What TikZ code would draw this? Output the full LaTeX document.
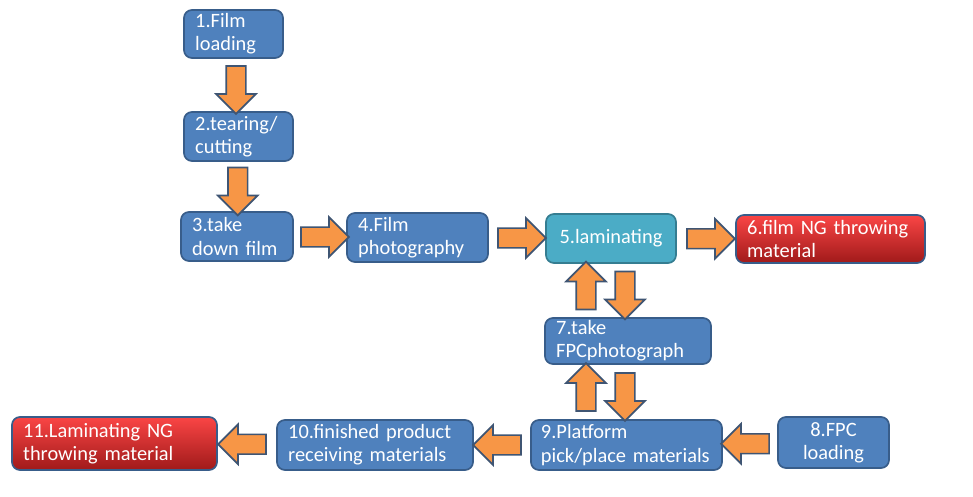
\documentclass[tikz,border=0pt]{standalone}
\usepackage{fontspec}
\setmainfont{Carlito}[WordSpace = 0.9]
\usepackage{xcolor}
\usetikzlibrary{calc, shapes.arrows}

\definecolor{boxblue}{HTML}{4F81BD}
\definecolor{boxblueline}{HTML}{385D8A}
\definecolor{boxteal}{HTML}{4BACC6}
\definecolor{boxtealline}{HTML}{357D91}
\definecolor{ngtop}{HTML}{FA4545}
\definecolor{ngbottom}{HTML}{A01A1A}
\definecolor{arroworange}{HTML}{F79646}
\definecolor{arrowline}{HTML}{3F5573}

\tikzset{
	process/.style = {draw = boxblueline, fill = boxblue, line width = 1.2pt, rounded corners = 0.2cm, text = white, align = left, inner xsep = 0.28cm, inner ysep = 0pt, font = {\fontsize{14.5}{16.5}\selectfont}},
	laminate/.style = {process, draw = boxtealline, fill = boxteal, align = center},
	throwing/.style = {process, top color = ngtop, bottom color = ngbottom},
	flow/.style = {single arrow, draw = arrowline, fill = arroworange, line width = 1.2pt, inner sep = 0pt, inner ysep = 0.225cm, minimum height = 1.2cm, single arrow head extend = 0.25cm}
}

\begin{document}
\begin{tikzpicture}[x = 0.025cm, y = -0.025cm]
			\useasboundingbox[fill = white] (0,0) rectangle (973,497);
			
			% film side
			\node [process, text width = 1.915cm, minimum height = 1.2cm] (filmload) at (233.5,34) {1.Film\\loading};
			\node [process, text width = 2.165cm, minimum height = 1.225cm] (tearing) at (238.5,136.5) {2.tearing/\\cutting};
			\node [process, text width = 2.24cm, minimum height = 1.225cm] (takedown) at (237,236.5) {3.take\\down film};
			\node [process, text width = 2.965cm, minimum height = 1.225cm] (filmphoto) at (417.5,237.5) {4.Film\\photography};
			\node [laminate, minimum width = 3.25cm, minimum height = 1.225cm] (laminating) at (611,238.5) {5.laminating};
			\node [throwing, text width = 4.165cm, minimum height = 1.2cm] (filmng) at (830.5,239) {6.film NG throwing\\material};
			
			% FPC side
			\node [process, text width = 3.59cm, minimum height = 1.15cm] (fpcphoto) at (628,341) {7.take\\FPCphotograph};
			\node [process, align = center, minimum width = 2.775cm, minimum height = 1.275cm] (fpcload) at (833.5,442.5) {8.FPC\\loading};
			\node [process, text width = 4.275cm, inner xsep = 0.25cm, minimum height = 1.25cm] (platform) at (626.5,445) {9.Platform\\pick/place materials};
			\node [process, text width = 4.34cm, minimum height = 1.25cm] (finished) at (375,445) {10.finished product\\receiving materials};
			\node [throwing, text width = 4.565cm, minimum height = 1.325cm] (laminateng) at (114.5,443.5) {11.Laminating NG\\throwing material};
			
			\path (filmload.south) -- node [flow, rotate = -90] {} (tearing.north);
			\path (tearing.south) -- node [flow, rotate = -90] {} (takedown.north);
			\path (takedown.east) -- node [flow] {} (filmphoto.west);
			\path (filmphoto.east) -- node [flow] {} (laminating.west);
			\path (laminating.east) -- node [flow] {} (filmng.west);
			
			\path ($ (fpcphoto.north) + (-42,0) $) -- node [flow, rotate = 90] {} ($ (laminating.south) + (-25,0) $);
			\path ($ (laminating.south) + (14,0) $) -- node [flow, rotate = -90] {} ($ (fpcphoto.north) + (-3,0) $);
			\path ($ (platform.north) + (-40.5,0) $) -- node [flow, rotate = 90] {} ($ (fpcphoto.south) + (-42,0) $);
			\path ($ (fpcphoto.south) + (-3,0) $) -- node [flow, rotate = -90] {} ($ (platform.north) + (-1.5,0) $);
			
			\path (fpcload.west) -- node [flow, rotate = 180] {} (platform.east);
			\path (platform.west) -- node [flow, rotate = 180] {} (finished.east);
			\path (finished.west) -- node [flow, rotate = 180] {} (laminateng.east);
		\end{tikzpicture}
\end{document}
